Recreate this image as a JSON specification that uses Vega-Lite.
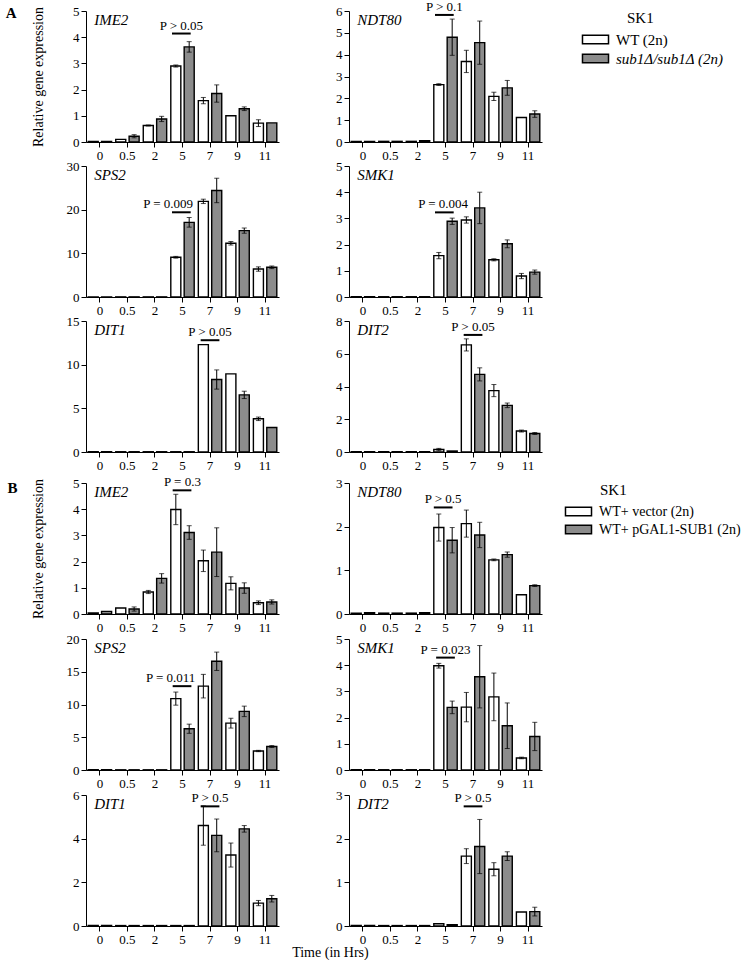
{
"$schema":"https://vega.github.io/schema/vega-lite/v6.json",
"padding":{"left":5,"top":0,"right":2,"bottom":0},
"datasets":{
"A":[
{"gene":"IME2","t":"0","g":"WT (2n)","v":0.02},{"gene":"IME2","t":"0","g":"sub1Δ/sub1Δ (2n)","v":0.02},
{"gene":"IME2","t":"0.5","g":"WT (2n)","v":0.1},{"gene":"IME2","t":"0.5","g":"sub1Δ/sub1Δ (2n)","v":0.22,"lo":0.16,"hi":0.28},
{"gene":"IME2","t":"2","g":"WT (2n)","v":0.63,"lo":0.61,"hi":0.65},{"gene":"IME2","t":"2","g":"sub1Δ/sub1Δ (2n)","v":0.88,"lo":0.78,"hi":0.98},
{"gene":"IME2","t":"5","g":"WT (2n)","v":2.9,"lo":2.86,"hi":2.94},{"gene":"IME2","t":"5","g":"sub1Δ/sub1Δ (2n)","v":3.63,"lo":3.43,"hi":3.83},
{"gene":"IME2","t":"7","g":"WT (2n)","v":1.58,"lo":1.46,"hi":1.7},{"gene":"IME2","t":"7","g":"sub1Δ/sub1Δ (2n)","v":1.85,"lo":1.52,"hi":2.18},
{"gene":"IME2","t":"9","g":"WT (2n)","v":1.0},{"gene":"IME2","t":"9","g":"sub1Δ/sub1Δ (2n)","v":1.27,"lo":1.2,"hi":1.34},
{"gene":"IME2","t":"11","g":"WT (2n)","v":0.72,"lo":0.59,"hi":0.85},{"gene":"IME2","t":"11","g":"sub1Δ/sub1Δ (2n)","v":0.73},
{"gene":"NDT80","t":"0","g":"WT (2n)","v":0.03},{"gene":"NDT80","t":"0","g":"sub1Δ/sub1Δ (2n)","v":0.03},
{"gene":"NDT80","t":"0.5","g":"WT (2n)","v":0.03},{"gene":"NDT80","t":"0.5","g":"sub1Δ/sub1Δ (2n)","v":0.03},
{"gene":"NDT80","t":"2","g":"WT (2n)","v":0.03},{"gene":"NDT80","t":"2","g":"sub1Δ/sub1Δ (2n)","v":0.06},
{"gene":"NDT80","t":"5","g":"WT (2n)","v":2.63,"lo":2.59,"hi":2.67},{"gene":"NDT80","t":"5","g":"sub1Δ/sub1Δ (2n)","v":4.8,"lo":3.97,"hi":5.63},
{"gene":"NDT80","t":"7","g":"WT (2n)","v":3.69,"lo":3.18,"hi":4.2},{"gene":"NDT80","t":"7","g":"sub1Δ/sub1Δ (2n)","v":4.55,"lo":3.56,"hi":5.54},
{"gene":"NDT80","t":"9","g":"WT (2n)","v":2.09,"lo":1.9,"hi":2.28},{"gene":"NDT80","t":"9","g":"sub1Δ/sub1Δ (2n)","v":2.48,"lo":2.14,"hi":2.82},
{"gene":"NDT80","t":"11","g":"WT (2n)","v":1.12},{"gene":"NDT80","t":"11","g":"sub1Δ/sub1Δ (2n)","v":1.28,"lo":1.13,"hi":1.43},
{"gene":"SPS2","t":"0","g":"WT (2n)","v":0.03},{"gene":"SPS2","t":"0","g":"sub1Δ/sub1Δ (2n)","v":0.03},
{"gene":"SPS2","t":"0.5","g":"WT (2n)","v":0.03},{"gene":"SPS2","t":"0.5","g":"sub1Δ/sub1Δ (2n)","v":0.03},
{"gene":"SPS2","t":"2","g":"WT (2n)","v":0.03},{"gene":"SPS2","t":"2","g":"sub1Δ/sub1Δ (2n)","v":0.03},
{"gene":"SPS2","t":"5","g":"WT (2n)","v":9.1,"lo":8.9,"hi":9.3},{"gene":"SPS2","t":"5","g":"sub1Δ/sub1Δ (2n)","v":17.1,"lo":16.0,"hi":18.2},
{"gene":"SPS2","t":"7","g":"WT (2n)","v":21.9,"lo":21.4,"hi":22.4},{"gene":"SPS2","t":"7","g":"sub1Δ/sub1Δ (2n)","v":24.4,"lo":21.6,"hi":27.2},
{"gene":"SPS2","t":"9","g":"WT (2n)","v":12.3,"lo":11.9,"hi":12.7},{"gene":"SPS2","t":"9","g":"sub1Δ/sub1Δ (2n)","v":15.2,"lo":14.6,"hi":15.8},
{"gene":"SPS2","t":"11","g":"WT (2n)","v":6.4,"lo":5.9,"hi":6.9},{"gene":"SPS2","t":"11","g":"sub1Δ/sub1Δ (2n)","v":6.8,"lo":6.5,"hi":7.1},
{"gene":"SMK1","t":"0","g":"WT (2n)","v":0.01},{"gene":"SMK1","t":"0","g":"sub1Δ/sub1Δ (2n)","v":0.01},
{"gene":"SMK1","t":"0.5","g":"WT (2n)","v":0.01},{"gene":"SMK1","t":"0.5","g":"sub1Δ/sub1Δ (2n)","v":0.01},
{"gene":"SMK1","t":"2","g":"WT (2n)","v":0.01},{"gene":"SMK1","t":"2","g":"sub1Δ/sub1Δ (2n)","v":0.01},
{"gene":"SMK1","t":"5","g":"WT (2n)","v":1.58,"lo":1.46,"hi":1.7},{"gene":"SMK1","t":"5","g":"sub1Δ/sub1Δ (2n)","v":2.89,"lo":2.77,"hi":3.01},
{"gene":"SMK1","t":"7","g":"WT (2n)","v":2.94,"lo":2.82,"hi":3.06},{"gene":"SMK1","t":"7","g":"sub1Δ/sub1Δ (2n)","v":3.4,"lo":2.8,"hi":4.0},
{"gene":"SMK1","t":"9","g":"WT (2n)","v":1.42,"lo":1.38,"hi":1.46},{"gene":"SMK1","t":"9","g":"sub1Δ/sub1Δ (2n)","v":2.03,"lo":1.88,"hi":2.18},
{"gene":"SMK1","t":"11","g":"WT (2n)","v":0.8,"lo":0.7,"hi":0.9},{"gene":"SMK1","t":"11","g":"sub1Δ/sub1Δ (2n)","v":0.95,"lo":0.87,"hi":1.03},
{"gene":"DIT1","t":"0","g":"WT (2n)","v":0.03},{"gene":"DIT1","t":"0","g":"sub1Δ/sub1Δ (2n)","v":0.03},
{"gene":"DIT1","t":"0.5","g":"WT (2n)","v":0.03},{"gene":"DIT1","t":"0.5","g":"sub1Δ/sub1Δ (2n)","v":0.03},
{"gene":"DIT1","t":"2","g":"WT (2n)","v":0.03},{"gene":"DIT1","t":"2","g":"sub1Δ/sub1Δ (2n)","v":0.03},
{"gene":"DIT1","t":"5","g":"WT (2n)","v":0.03},{"gene":"DIT1","t":"5","g":"sub1Δ/sub1Δ (2n)","v":0.03},
{"gene":"DIT1","t":"7","g":"WT (2n)","v":12.3},{"gene":"DIT1","t":"7","g":"sub1Δ/sub1Δ (2n)","v":8.3,"lo":7.2,"hi":9.4},
{"gene":"DIT1","t":"9","g":"WT (2n)","v":8.94},{"gene":"DIT1","t":"9","g":"sub1Δ/sub1Δ (2n)","v":6.54,"lo":6.12,"hi":6.96},
{"gene":"DIT1","t":"11","g":"WT (2n)","v":3.8,"lo":3.6,"hi":4.0},{"gene":"DIT1","t":"11","g":"sub1Δ/sub1Δ (2n)","v":2.8},
{"gene":"DIT2","t":"0","g":"WT (2n)","v":0.02},{"gene":"DIT2","t":"0","g":"sub1Δ/sub1Δ (2n)","v":0.02},
{"gene":"DIT2","t":"0.5","g":"WT (2n)","v":0.02},{"gene":"DIT2","t":"0.5","g":"sub1Δ/sub1Δ (2n)","v":0.02},
{"gene":"DIT2","t":"2","g":"WT (2n)","v":0.02},{"gene":"DIT2","t":"2","g":"sub1Δ/sub1Δ (2n)","v":0.02},
{"gene":"DIT2","t":"5","g":"WT (2n)","v":0.15,"lo":0.08,"hi":0.22},{"gene":"DIT2","t":"5","g":"sub1Δ/sub1Δ (2n)","v":0.06},
{"gene":"DIT2","t":"7","g":"WT (2n)","v":6.54,"lo":6.17,"hi":6.91},{"gene":"DIT2","t":"7","g":"sub1Δ/sub1Δ (2n)","v":4.74,"lo":4.34,"hi":5.14},
{"gene":"DIT2","t":"9","g":"WT (2n)","v":3.75,"lo":3.38,"hi":4.12},{"gene":"DIT2","t":"9","g":"sub1Δ/sub1Δ (2n)","v":2.85,"lo":2.71,"hi":2.99},
{"gene":"DIT2","t":"11","g":"WT (2n)","v":1.28,"lo":1.22,"hi":1.34},{"gene":"DIT2","t":"11","g":"sub1Δ/sub1Δ (2n)","v":1.13,"lo":1.07,"hi":1.19}
],
"B":[
{"gene":"IME2","t":"0","g":"WT+ vector (2n)","v":0.04},{"gene":"IME2","t":"0","g":"WT+ pGAL1-SUB1 (2n)","v":0.1},
{"gene":"IME2","t":"0.5","g":"WT+ vector (2n)","v":0.23},{"gene":"IME2","t":"0.5","g":"WT+ pGAL1-SUB1 (2n)","v":0.19,"lo":0.11,"hi":0.27},
{"gene":"IME2","t":"2","g":"WT+ vector (2n)","v":0.84,"lo":0.78,"hi":0.9},{"gene":"IME2","t":"2","g":"WT+ pGAL1-SUB1 (2n)","v":1.36,"lo":1.18,"hi":1.54},
{"gene":"IME2","t":"5","g":"WT+ vector (2n)","v":3.99,"lo":3.41,"hi":4.57},{"gene":"IME2","t":"5","g":"WT+ pGAL1-SUB1 (2n)","v":3.11,"lo":2.85,"hi":3.37},
{"gene":"IME2","t":"7","g":"WT+ vector (2n)","v":2.03,"lo":1.62,"hi":2.44},{"gene":"IME2","t":"7","g":"WT+ pGAL1-SUB1 (2n)","v":2.36,"lo":1.43,"hi":3.29},
{"gene":"IME2","t":"9","g":"WT+ vector (2n)","v":1.17,"lo":0.92,"hi":1.42},{"gene":"IME2","t":"9","g":"WT+ pGAL1-SUB1 (2n)","v":0.99,"lo":0.79,"hi":1.19},
{"gene":"IME2","t":"11","g":"WT+ vector (2n)","v":0.43,"lo":0.36,"hi":0.5},{"gene":"IME2","t":"11","g":"WT+ pGAL1-SUB1 (2n)","v":0.46,"lo":0.38,"hi":0.54},
{"gene":"NDT80","t":"0","g":"WT+ vector (2n)","v":0.02},{"gene":"NDT80","t":"0","g":"WT+ pGAL1-SUB1 (2n)","v":0.03},
{"gene":"NDT80","t":"0.5","g":"WT+ vector (2n)","v":0.02},{"gene":"NDT80","t":"0.5","g":"WT+ pGAL1-SUB1 (2n)","v":0.02},
{"gene":"NDT80","t":"2","g":"WT+ vector (2n)","v":0.02},{"gene":"NDT80","t":"2","g":"WT+ pGAL1-SUB1 (2n)","v":0.03},
{"gene":"NDT80","t":"5","g":"WT+ vector (2n)","v":1.98,"lo":1.67,"hi":2.29},{"gene":"NDT80","t":"5","g":"WT+ pGAL1-SUB1 (2n)","v":1.69,"lo":1.4,"hi":1.98},
{"gene":"NDT80","t":"7","g":"WT+ vector (2n)","v":2.07,"lo":1.76,"hi":2.38},{"gene":"NDT80","t":"7","g":"WT+ pGAL1-SUB1 (2n)","v":1.81,"lo":1.52,"hi":2.1},
{"gene":"NDT80","t":"9","g":"WT+ vector (2n)","v":1.24,"lo":1.22,"hi":1.26},{"gene":"NDT80","t":"9","g":"WT+ pGAL1-SUB1 (2n)","v":1.36,"lo":1.3,"hi":1.42},
{"gene":"NDT80","t":"11","g":"WT+ vector (2n)","v":0.44},{"gene":"NDT80","t":"11","g":"WT+ pGAL1-SUB1 (2n)","v":0.65,"lo":0.63,"hi":0.67},
{"gene":"SPS2","t":"0","g":"WT+ vector (2n)","v":0.03},{"gene":"SPS2","t":"0","g":"WT+ pGAL1-SUB1 (2n)","v":0.03},
{"gene":"SPS2","t":"0.5","g":"WT+ vector (2n)","v":0.03},{"gene":"SPS2","t":"0.5","g":"WT+ pGAL1-SUB1 (2n)","v":0.03},
{"gene":"SPS2","t":"2","g":"WT+ vector (2n)","v":0.03},{"gene":"SPS2","t":"2","g":"WT+ pGAL1-SUB1 (2n)","v":0.03},
{"gene":"SPS2","t":"5","g":"WT+ vector (2n)","v":10.9,"lo":9.9,"hi":11.9},{"gene":"SPS2","t":"5","g":"WT+ pGAL1-SUB1 (2n)","v":6.3,"lo":5.6,"hi":7.0},
{"gene":"SPS2","t":"7","g":"WT+ vector (2n)","v":12.8,"lo":11.0,"hi":14.6},{"gene":"SPS2","t":"7","g":"WT+ pGAL1-SUB1 (2n)","v":16.6,"lo":15.2,"hi":18.0},
{"gene":"SPS2","t":"9","g":"WT+ vector (2n)","v":7.16,"lo":6.4,"hi":7.9},{"gene":"SPS2","t":"9","g":"WT+ pGAL1-SUB1 (2n)","v":8.95,"lo":8.15,"hi":9.75},
{"gene":"SPS2","t":"11","g":"WT+ vector (2n)","v":2.9,"lo":2.8,"hi":3.0},{"gene":"SPS2","t":"11","g":"WT+ pGAL1-SUB1 (2n)","v":3.58,"lo":3.43,"hi":3.73},
{"gene":"SMK1","t":"0","g":"WT+ vector (2n)","v":0.01},{"gene":"SMK1","t":"0","g":"WT+ pGAL1-SUB1 (2n)","v":0.01},
{"gene":"SMK1","t":"0.5","g":"WT+ vector (2n)","v":0.01},{"gene":"SMK1","t":"0.5","g":"WT+ pGAL1-SUB1 (2n)","v":0.01},
{"gene":"SMK1","t":"2","g":"WT+ vector (2n)","v":0.01},{"gene":"SMK1","t":"2","g":"WT+ pGAL1-SUB1 (2n)","v":0.01},
{"gene":"SMK1","t":"5","g":"WT+ vector (2n)","v":3.98,"lo":3.89,"hi":4.07},{"gene":"SMK1","t":"5","g":"WT+ pGAL1-SUB1 (2n)","v":2.39,"lo":2.15,"hi":2.63},
{"gene":"SMK1","t":"7","g":"WT+ vector (2n)","v":2.4,"lo":1.84,"hi":2.96},{"gene":"SMK1","t":"7","g":"WT+ pGAL1-SUB1 (2n)","v":3.56,"lo":2.37,"hi":4.75},
{"gene":"SMK1","t":"9","g":"WT+ vector (2n)","v":2.79,"lo":1.88,"hi":3.7},{"gene":"SMK1","t":"9","g":"WT+ pGAL1-SUB1 (2n)","v":1.69,"lo":0.82,"hi":2.56},
{"gene":"SMK1","t":"11","g":"WT+ vector (2n)","v":0.46,"lo":0.43,"hi":0.49},{"gene":"SMK1","t":"11","g":"WT+ pGAL1-SUB1 (2n)","v":1.28,"lo":0.74,"hi":1.82},
{"gene":"DIT1","t":"0","g":"WT+ vector (2n)","v":0.02},{"gene":"DIT1","t":"0","g":"WT+ pGAL1-SUB1 (2n)","v":0.02},
{"gene":"DIT1","t":"0.5","g":"WT+ vector (2n)","v":0.02},{"gene":"DIT1","t":"0.5","g":"WT+ pGAL1-SUB1 (2n)","v":0.02},
{"gene":"DIT1","t":"2","g":"WT+ vector (2n)","v":0.02},{"gene":"DIT1","t":"2","g":"WT+ pGAL1-SUB1 (2n)","v":0.02},
{"gene":"DIT1","t":"5","g":"WT+ vector (2n)","v":0.02},{"gene":"DIT1","t":"5","g":"WT+ pGAL1-SUB1 (2n)","v":0.02},
{"gene":"DIT1","t":"7","g":"WT+ vector (2n)","v":4.6,"lo":3.7,"hi":5.5},{"gene":"DIT1","t":"7","g":"WT+ pGAL1-SUB1 (2n)","v":4.15,"lo":3.4,"hi":4.9},
{"gene":"DIT1","t":"9","g":"WT+ vector (2n)","v":3.25,"lo":2.7,"hi":3.8},{"gene":"DIT1","t":"9","g":"WT+ pGAL1-SUB1 (2n)","v":4.45,"lo":4.3,"hi":4.6},
{"gene":"DIT1","t":"11","g":"WT+ vector (2n)","v":1.05,"lo":0.93,"hi":1.17},{"gene":"DIT1","t":"11","g":"WT+ pGAL1-SUB1 (2n)","v":1.25,"lo":1.1,"hi":1.4},
{"gene":"DIT2","t":"0","g":"WT+ vector (2n)","v":0.01},{"gene":"DIT2","t":"0","g":"WT+ pGAL1-SUB1 (2n)","v":0.01},
{"gene":"DIT2","t":"0.5","g":"WT+ vector (2n)","v":0.01},{"gene":"DIT2","t":"0.5","g":"WT+ pGAL1-SUB1 (2n)","v":0.01},
{"gene":"DIT2","t":"2","g":"WT+ vector (2n)","v":0.01},{"gene":"DIT2","t":"2","g":"WT+ pGAL1-SUB1 (2n)","v":0.01},
{"gene":"DIT2","t":"5","g":"WT+ vector (2n)","v":0.05},{"gene":"DIT2","t":"5","g":"WT+ pGAL1-SUB1 (2n)","v":0.03},
{"gene":"DIT2","t":"7","g":"WT+ vector (2n)","v":1.6,"lo":1.43,"hi":1.77},{"gene":"DIT2","t":"7","g":"WT+ pGAL1-SUB1 (2n)","v":1.82,"lo":1.2,"hi":2.44},
{"gene":"DIT2","t":"9","g":"WT+ vector (2n)","v":1.3,"lo":1.15,"hi":1.45},{"gene":"DIT2","t":"9","g":"WT+ pGAL1-SUB1 (2n)","v":1.6,"lo":1.5,"hi":1.7},
{"gene":"DIT2","t":"11","g":"WT+ vector (2n)","v":0.32},{"gene":"DIT2","t":"11","g":"WT+ pGAL1-SUB1 (2n)","v":0.33,"lo":0.23,"hi":0.43}
],
"notes":[
{"s":"A","gene":"IME2","t":"5","p":"P > 0.05","py":4.14},
{"s":"A","gene":"NDT80","t":"5","p":"P > 0.1","py":5.82},
{"s":"A","gene":"SPS2","t":"5","p":"P = 0.009","py":19.4},
{"s":"A","gene":"SMK1","t":"5","p":"P = 0.004","py":3.23},
{"s":"A","gene":"DIT1","t":"7","p":"P > 0.05","py":12.8},
{"s":"A","gene":"DIT2","t":"7","p":"P > 0.05","py":7.15},
{"s":"B","gene":"IME2","t":"5","p":"P = 0.3","py":4.72},
{"s":"B","gene":"NDT80","t":"5","p":"P > 0.5","py":2.44},
{"s":"B","gene":"SPS2","t":"5","p":"P = 0.011","py":12.8},
{"s":"B","gene":"SMK1","t":"5","p":"P = 0.023","py":4.29},
{"s":"B","gene":"DIT1","t":"7","p":"P > 0.5","py":5.48},
{"s":"B","gene":"DIT2","t":"7","p":"P > 0.5","py":2.74}
]
},
"vconcat":[
{"concat":[
{"width":193,"height":131,"encoding":{"x":{"field":"t","type":"nominal","title":null,"scale":{"domain":["0","0.5","2","5","7","9","11"],"paddingInner":0.15,"paddingOuter":0.08},"axis":{"labelAngle":0}}},"layer":[
{"data":{"name":"A"},"transform":[{"filter":"datum.gene=='IME2'"}],"mark":{"type":"bar","stroke":"black","strokeWidth":1.4},"encoding":{"y":{"field":"v","type":"quantitative","scale":{"domain":[0,5],"nice":false},"axis":{"values":[0,1,2,3,4,5],"title":"Relative gene expression"}},"xOffset":{"field":"g","type":"nominal","scale":{"domain":["WT (2n)","sub1Δ/sub1Δ (2n)"],"paddingInner":0.25}},"fill":{"field":"g","type":"nominal","scale":{"domain":["WT (2n)","sub1Δ/sub1Δ (2n)"],"range":["white","#8c8c8c"]},"legend":{"title":"SK1","offset":43,"labelOffset":10,"rowPadding":0,"encode":{"title":{"update":{"dx":{"value":42}}},"labels":{"update":{"fontStyle":{"signal":"indexof(datum.label,'sub1')>=0 ? 'italic' : 'normal'"}}}}}}}},
{"data":{"name":"A"},"transform":[{"filter":"datum.gene=='IME2' && isValid(datum.lo)"}],"mark":{"type":"rule","color":"black","strokeWidth":1},"encoding":{"y":{"field":"lo","type":"quantitative","axis":{"values":[0,1,2,3,4,5],"title":"Relative gene expression"}},"y2":{"field":"hi"},"xOffset":{"field":"g","type":"nominal","scale":{"domain":["WT (2n)","sub1Δ/sub1Δ (2n)"]}}}},
{"data":{"name":"A"},"transform":[{"filter":"datum.gene=='IME2' && isValid(datum.lo)"}],"mark":{"type":"tick","color":"black","size":5,"thickness":1},"encoding":{"y":{"field":"lo","type":"quantitative","axis":{"values":[0,1,2,3,4,5],"title":"Relative gene expression"}},"xOffset":{"field":"g","type":"nominal","scale":{"domain":["WT (2n)","sub1Δ/sub1Δ (2n)"]}}}},
{"data":{"name":"A"},"transform":[{"filter":"datum.gene=='IME2' && isValid(datum.hi)"}],"mark":{"type":"tick","color":"black","size":5,"thickness":1},"encoding":{"y":{"field":"hi","type":"quantitative","axis":{"values":[0,1,2,3,4,5],"title":"Relative gene expression"}},"xOffset":{"field":"g","type":"nominal","scale":{"domain":["WT (2n)","sub1Δ/sub1Δ (2n)"]}}}},
{"data":{"name":"notes"},"transform":[{"filter":"datum.s=='A' && datum.gene=='IME2'"}],"mark":{"type":"rule","color":"black","strokeWidth":2},"encoding":{"x":{"field":"t","type":"nominal","bandPosition":0.05},"x2":{"field":"t","bandPosition":0.85},"y":{"field":"py","type":"quantitative","axis":{"values":[0,1,2,3,4,5],"title":"Relative gene expression"}}}},
{"data":{"name":"notes"},"transform":[{"filter":"datum.s=='A' && datum.gene=='IME2'"}],"mark":{"type":"text","baseline":"bottom","dy":-1,"fontSize":13},"encoding":{"x":{"field":"t","type":"nominal","bandPosition":0.45},"y":{"field":"py","type":"quantitative","axis":{"values":[0,1,2,3,4,5],"title":"Relative gene expression"}},"text":{"field":"p"}}},
{"data":{"name":"notes"},"transform":[{"filter":"datum.s=='A' && datum.gene=='IME2'"}],"mark":{"type":"text","align":"left","baseline":"top","fontStyle":"italic","fontSize":15,"dx":6,"dy":2},"encoding":{"x":{"datum":"0","bandPosition":0},"y":{"datum":5,"type":"quantitative","axis":{"values":[0,1,2,3,4,5],"title":"Relative gene expression"}},"text":{"field":"gene"}}}
]},
{"width":193,"height":131,"encoding":{"x":{"field":"t","type":"nominal","title":null,"scale":{"domain":["0","0.5","2","5","7","9","11"],"paddingInner":0.15,"paddingOuter":0.08},"axis":{"labelAngle":0}}},"layer":[
{"data":{"name":"A"},"transform":[{"filter":"datum.gene=='NDT80'"}],"mark":{"type":"bar","stroke":"black","strokeWidth":1.4},"encoding":{"y":{"field":"v","type":"quantitative","scale":{"domain":[0,6],"nice":false},"axis":{"values":[0,1,2,3,4,5,6],"title":null}},"xOffset":{"field":"g","type":"nominal","scale":{"domain":["WT (2n)","sub1Δ/sub1Δ (2n)"],"paddingInner":0.25}},"fill":{"field":"g","type":"nominal","scale":{"domain":["WT (2n)","sub1Δ/sub1Δ (2n)"],"range":["white","#8c8c8c"]}}}},
{"data":{"name":"A"},"transform":[{"filter":"datum.gene=='NDT80' && isValid(datum.lo)"}],"mark":{"type":"rule","color":"black","strokeWidth":1},"encoding":{"y":{"field":"lo","type":"quantitative","axis":{"values":[0,1,2,3,4,5,6],"title":null}},"y2":{"field":"hi"},"xOffset":{"field":"g","type":"nominal","scale":{"domain":["WT (2n)","sub1Δ/sub1Δ (2n)"]}}}},
{"data":{"name":"A"},"transform":[{"filter":"datum.gene=='NDT80' && isValid(datum.lo)"}],"mark":{"type":"tick","color":"black","size":5,"thickness":1},"encoding":{"y":{"field":"lo","type":"quantitative","axis":{"values":[0,1,2,3,4,5,6],"title":null}},"xOffset":{"field":"g","type":"nominal","scale":{"domain":["WT (2n)","sub1Δ/sub1Δ (2n)"]}}}},
{"data":{"name":"A"},"transform":[{"filter":"datum.gene=='NDT80' && isValid(datum.hi)"}],"mark":{"type":"tick","color":"black","size":5,"thickness":1},"encoding":{"y":{"field":"hi","type":"quantitative","axis":{"values":[0,1,2,3,4,5,6],"title":null}},"xOffset":{"field":"g","type":"nominal","scale":{"domain":["WT (2n)","sub1Δ/sub1Δ (2n)"]}}}},
{"data":{"name":"notes"},"transform":[{"filter":"datum.s=='A' && datum.gene=='NDT80'"}],"mark":{"type":"rule","color":"black","strokeWidth":2},"encoding":{"x":{"field":"t","type":"nominal","bandPosition":0.05},"x2":{"field":"t","bandPosition":0.85},"y":{"field":"py","type":"quantitative","axis":{"values":[0,1,2,3,4,5,6],"title":null}}}},
{"data":{"name":"notes"},"transform":[{"filter":"datum.s=='A' && datum.gene=='NDT80'"}],"mark":{"type":"text","baseline":"bottom","dy":-1,"fontSize":13},"encoding":{"x":{"field":"t","type":"nominal","bandPosition":0.45},"y":{"field":"py","type":"quantitative","axis":{"values":[0,1,2,3,4,5,6],"title":null}},"text":{"field":"p"}}},
{"data":{"name":"notes"},"transform":[{"filter":"datum.s=='A' && datum.gene=='NDT80'"}],"mark":{"type":"text","align":"left","baseline":"top","fontStyle":"italic","fontSize":15,"dx":6,"dy":2},"encoding":{"x":{"datum":"0","bandPosition":0},"y":{"datum":6,"type":"quantitative","axis":{"values":[0,1,2,3,4,5,6],"title":null}},"text":{"field":"gene"}}}
]},
{"width":193,"height":131,"encoding":{"x":{"field":"t","type":"nominal","title":null,"scale":{"domain":["0","0.5","2","5","7","9","11"],"paddingInner":0.15,"paddingOuter":0.08},"axis":{"labelAngle":0}}},"layer":[
{"data":{"name":"A"},"transform":[{"filter":"datum.gene=='SPS2'"}],"mark":{"type":"bar","stroke":"black","strokeWidth":1.4},"encoding":{"y":{"field":"v","type":"quantitative","scale":{"domain":[0,30],"nice":false},"axis":{"values":[0,10,20,30],"title":null}},"xOffset":{"field":"g","type":"nominal","scale":{"domain":["WT (2n)","sub1Δ/sub1Δ (2n)"],"paddingInner":0.25}},"fill":{"field":"g","type":"nominal","scale":{"domain":["WT (2n)","sub1Δ/sub1Δ (2n)"],"range":["white","#8c8c8c"]}}}},
{"data":{"name":"A"},"transform":[{"filter":"datum.gene=='SPS2' && isValid(datum.lo)"}],"mark":{"type":"rule","color":"black","strokeWidth":1},"encoding":{"y":{"field":"lo","type":"quantitative","axis":{"values":[0,10,20,30],"title":null}},"y2":{"field":"hi"},"xOffset":{"field":"g","type":"nominal","scale":{"domain":["WT (2n)","sub1Δ/sub1Δ (2n)"]}}}},
{"data":{"name":"A"},"transform":[{"filter":"datum.gene=='SPS2' && isValid(datum.lo)"}],"mark":{"type":"tick","color":"black","size":5,"thickness":1},"encoding":{"y":{"field":"lo","type":"quantitative","axis":{"values":[0,10,20,30],"title":null}},"xOffset":{"field":"g","type":"nominal","scale":{"domain":["WT (2n)","sub1Δ/sub1Δ (2n)"]}}}},
{"data":{"name":"A"},"transform":[{"filter":"datum.gene=='SPS2' && isValid(datum.hi)"}],"mark":{"type":"tick","color":"black","size":5,"thickness":1},"encoding":{"y":{"field":"hi","type":"quantitative","axis":{"values":[0,10,20,30],"title":null}},"xOffset":{"field":"g","type":"nominal","scale":{"domain":["WT (2n)","sub1Δ/sub1Δ (2n)"]}}}},
{"data":{"name":"notes"},"transform":[{"filter":"datum.s=='A' && datum.gene=='SPS2'"}],"mark":{"type":"rule","color":"black","strokeWidth":2},"encoding":{"x":{"field":"t","type":"nominal","bandPosition":0.05},"x2":{"field":"t","bandPosition":0.85},"y":{"field":"py","type":"quantitative","axis":{"values":[0,10,20,30],"title":null}}}},
{"data":{"name":"notes"},"transform":[{"filter":"datum.s=='A' && datum.gene=='SPS2'"}],"mark":{"type":"text","align":"right","baseline":"bottom","dy":-1,"fontSize":13},"encoding":{"x":{"field":"t","type":"nominal","bandPosition":0.95},"y":{"field":"py","type":"quantitative","axis":{"values":[0,10,20,30],"title":null}},"text":{"field":"p"}}},
{"data":{"name":"notes"},"transform":[{"filter":"datum.s=='A' && datum.gene=='SPS2'"}],"mark":{"type":"text","align":"left","baseline":"top","fontStyle":"italic","fontSize":15,"dx":6,"dy":2},"encoding":{"x":{"datum":"0","bandPosition":0},"y":{"datum":30,"type":"quantitative","axis":{"values":[0,10,20,30],"title":null}},"text":{"field":"gene"}}}
]},
{"width":193,"height":131,"encoding":{"x":{"field":"t","type":"nominal","title":null,"scale":{"domain":["0","0.5","2","5","7","9","11"],"paddingInner":0.15,"paddingOuter":0.08},"axis":{"labelAngle":0}}},"layer":[
{"data":{"name":"A"},"transform":[{"filter":"datum.gene=='SMK1'"}],"mark":{"type":"bar","stroke":"black","strokeWidth":1.4},"encoding":{"y":{"field":"v","type":"quantitative","scale":{"domain":[0,5],"nice":false},"axis":{"values":[0,1,2,3,4,5],"title":null}},"xOffset":{"field":"g","type":"nominal","scale":{"domain":["WT (2n)","sub1Δ/sub1Δ (2n)"],"paddingInner":0.25}},"fill":{"field":"g","type":"nominal","scale":{"domain":["WT (2n)","sub1Δ/sub1Δ (2n)"],"range":["white","#8c8c8c"]}}}},
{"data":{"name":"A"},"transform":[{"filter":"datum.gene=='SMK1' && isValid(datum.lo)"}],"mark":{"type":"rule","color":"black","strokeWidth":1},"encoding":{"y":{"field":"lo","type":"quantitative","axis":{"values":[0,1,2,3,4,5],"title":null}},"y2":{"field":"hi"},"xOffset":{"field":"g","type":"nominal","scale":{"domain":["WT (2n)","sub1Δ/sub1Δ (2n)"]}}}},
{"data":{"name":"A"},"transform":[{"filter":"datum.gene=='SMK1' && isValid(datum.lo)"}],"mark":{"type":"tick","color":"black","size":5,"thickness":1},"encoding":{"y":{"field":"lo","type":"quantitative","axis":{"values":[0,1,2,3,4,5],"title":null}},"xOffset":{"field":"g","type":"nominal","scale":{"domain":["WT (2n)","sub1Δ/sub1Δ (2n)"]}}}},
{"data":{"name":"A"},"transform":[{"filter":"datum.gene=='SMK1' && isValid(datum.hi)"}],"mark":{"type":"tick","color":"black","size":5,"thickness":1},"encoding":{"y":{"field":"hi","type":"quantitative","axis":{"values":[0,1,2,3,4,5],"title":null}},"xOffset":{"field":"g","type":"nominal","scale":{"domain":["WT (2n)","sub1Δ/sub1Δ (2n)"]}}}},
{"data":{"name":"notes"},"transform":[{"filter":"datum.s=='A' && datum.gene=='SMK1'"}],"mark":{"type":"rule","color":"black","strokeWidth":2},"encoding":{"x":{"field":"t","type":"nominal","bandPosition":0.05},"x2":{"field":"t","bandPosition":0.85},"y":{"field":"py","type":"quantitative","axis":{"values":[0,1,2,3,4,5],"title":null}}}},
{"data":{"name":"notes"},"transform":[{"filter":"datum.s=='A' && datum.gene=='SMK1'"}],"mark":{"type":"text","baseline":"bottom","dy":-1,"fontSize":13},"encoding":{"x":{"field":"t","type":"nominal","bandPosition":0.4},"y":{"field":"py","type":"quantitative","axis":{"values":[0,1,2,3,4,5],"title":null}},"text":{"field":"p"}}},
{"data":{"name":"notes"},"transform":[{"filter":"datum.s=='A' && datum.gene=='SMK1'"}],"mark":{"type":"text","align":"left","baseline":"top","fontStyle":"italic","fontSize":15,"dx":6,"dy":2},"encoding":{"x":{"datum":"0","bandPosition":0},"y":{"datum":5,"type":"quantitative","axis":{"values":[0,1,2,3,4,5],"title":null}},"text":{"field":"gene"}}}
]},
{"width":193,"height":131,"encoding":{"x":{"field":"t","type":"nominal","title":null,"scale":{"domain":["0","0.5","2","5","7","9","11"],"paddingInner":0.15,"paddingOuter":0.08},"axis":{"labelAngle":0}}},"layer":[
{"data":{"name":"A"},"transform":[{"filter":"datum.gene=='DIT1'"}],"mark":{"type":"bar","stroke":"black","strokeWidth":1.4},"encoding":{"y":{"field":"v","type":"quantitative","scale":{"domain":[0,15],"nice":false},"axis":{"values":[0,5,10,15],"title":null}},"xOffset":{"field":"g","type":"nominal","scale":{"domain":["WT (2n)","sub1Δ/sub1Δ (2n)"],"paddingInner":0.25}},"fill":{"field":"g","type":"nominal","scale":{"domain":["WT (2n)","sub1Δ/sub1Δ (2n)"],"range":["white","#8c8c8c"]}}}},
{"data":{"name":"A"},"transform":[{"filter":"datum.gene=='DIT1' && isValid(datum.lo)"}],"mark":{"type":"rule","color":"black","strokeWidth":1},"encoding":{"y":{"field":"lo","type":"quantitative","axis":{"values":[0,5,10,15],"title":null}},"y2":{"field":"hi"},"xOffset":{"field":"g","type":"nominal","scale":{"domain":["WT (2n)","sub1Δ/sub1Δ (2n)"]}}}},
{"data":{"name":"A"},"transform":[{"filter":"datum.gene=='DIT1' && isValid(datum.lo)"}],"mark":{"type":"tick","color":"black","size":5,"thickness":1},"encoding":{"y":{"field":"lo","type":"quantitative","axis":{"values":[0,5,10,15],"title":null}},"xOffset":{"field":"g","type":"nominal","scale":{"domain":["WT (2n)","sub1Δ/sub1Δ (2n)"]}}}},
{"data":{"name":"A"},"transform":[{"filter":"datum.gene=='DIT1' && isValid(datum.hi)"}],"mark":{"type":"tick","color":"black","size":5,"thickness":1},"encoding":{"y":{"field":"hi","type":"quantitative","axis":{"values":[0,5,10,15],"title":null}},"xOffset":{"field":"g","type":"nominal","scale":{"domain":["WT (2n)","sub1Δ/sub1Δ (2n)"]}}}},
{"data":{"name":"notes"},"transform":[{"filter":"datum.s=='A' && datum.gene=='DIT1'"}],"mark":{"type":"rule","color":"black","strokeWidth":2},"encoding":{"x":{"field":"t","type":"nominal","bandPosition":0.1},"x2":{"field":"t","bandPosition":0.9},"y":{"field":"py","type":"quantitative","axis":{"values":[0,5,10,15],"title":null}}}},
{"data":{"name":"notes"},"transform":[{"filter":"datum.s=='A' && datum.gene=='DIT1'"}],"mark":{"type":"text","baseline":"bottom","dy":-1,"fontSize":13},"encoding":{"x":{"field":"t","type":"nominal","bandPosition":0.5},"y":{"field":"py","type":"quantitative","axis":{"values":[0,5,10,15],"title":null}},"text":{"field":"p"}}},
{"data":{"name":"notes"},"transform":[{"filter":"datum.s=='A' && datum.gene=='DIT1'"}],"mark":{"type":"text","align":"left","baseline":"top","fontStyle":"italic","fontSize":15,"dx":6,"dy":2},"encoding":{"x":{"datum":"0","bandPosition":0},"y":{"datum":15,"type":"quantitative","axis":{"values":[0,5,10,15],"title":null}},"text":{"field":"gene"}}}
]},
{"width":193,"height":131,"encoding":{"x":{"field":"t","type":"nominal","title":null,"scale":{"domain":["0","0.5","2","5","7","9","11"],"paddingInner":0.15,"paddingOuter":0.08},"axis":{"labelAngle":0}}},"layer":[
{"data":{"name":"A"},"transform":[{"filter":"datum.gene=='DIT2'"}],"mark":{"type":"bar","stroke":"black","strokeWidth":1.4},"encoding":{"y":{"field":"v","type":"quantitative","scale":{"domain":[0,8],"nice":false},"axis":{"values":[0,2,4,6,8],"title":null}},"xOffset":{"field":"g","type":"nominal","scale":{"domain":["WT (2n)","sub1Δ/sub1Δ (2n)"],"paddingInner":0.25}},"fill":{"field":"g","type":"nominal","scale":{"domain":["WT (2n)","sub1Δ/sub1Δ (2n)"],"range":["white","#8c8c8c"]}}}},
{"data":{"name":"A"},"transform":[{"filter":"datum.gene=='DIT2' && isValid(datum.lo)"}],"mark":{"type":"rule","color":"black","strokeWidth":1},"encoding":{"y":{"field":"lo","type":"quantitative","axis":{"values":[0,2,4,6,8],"title":null}},"y2":{"field":"hi"},"xOffset":{"field":"g","type":"nominal","scale":{"domain":["WT (2n)","sub1Δ/sub1Δ (2n)"]}}}},
{"data":{"name":"A"},"transform":[{"filter":"datum.gene=='DIT2' && isValid(datum.lo)"}],"mark":{"type":"tick","color":"black","size":5,"thickness":1},"encoding":{"y":{"field":"lo","type":"quantitative","axis":{"values":[0,2,4,6,8],"title":null}},"xOffset":{"field":"g","type":"nominal","scale":{"domain":["WT (2n)","sub1Δ/sub1Δ (2n)"]}}}},
{"data":{"name":"A"},"transform":[{"filter":"datum.gene=='DIT2' && isValid(datum.hi)"}],"mark":{"type":"tick","color":"black","size":5,"thickness":1},"encoding":{"y":{"field":"hi","type":"quantitative","axis":{"values":[0,2,4,6,8],"title":null}},"xOffset":{"field":"g","type":"nominal","scale":{"domain":["WT (2n)","sub1Δ/sub1Δ (2n)"]}}}},
{"data":{"name":"notes"},"transform":[{"filter":"datum.s=='A' && datum.gene=='DIT2'"}],"mark":{"type":"rule","color":"black","strokeWidth":2},"encoding":{"x":{"field":"t","type":"nominal","bandPosition":0.1},"x2":{"field":"t","bandPosition":0.9},"y":{"field":"py","type":"quantitative","axis":{"values":[0,2,4,6,8],"title":null}}}},
{"data":{"name":"notes"},"transform":[{"filter":"datum.s=='A' && datum.gene=='DIT2'"}],"mark":{"type":"text","baseline":"bottom","dy":-1,"fontSize":13},"encoding":{"x":{"field":"t","type":"nominal","bandPosition":0.5},"y":{"field":"py","type":"quantitative","axis":{"values":[0,2,4,6,8],"title":null}},"text":{"field":"p"}}},
{"data":{"name":"notes"},"transform":[{"filter":"datum.s=='A' && datum.gene=='DIT2'"}],"mark":{"type":"text","align":"left","baseline":"top","fontStyle":"italic","fontSize":15,"dx":6,"dy":2},"encoding":{"x":{"datum":"0","bandPosition":0},"y":{"datum":8,"type":"quantitative","axis":{"values":[0,2,4,6,8],"title":null}},"text":{"field":"gene"}}}
]}
],"columns":2,"bounds":"flush","spacing":{"row":24,"column":70},
"resolve":{"scale":{"y":"independent","x":"independent","xOffset":"independent","fill":"shared"}},
"title":{"text":"A","orient":"left","angle":0,"anchor":"end","align":"right","baseline":"top","fontSize":15,"fontWeight":"bold","offset":4,"dy":5}
},
{"concat":[
{"width":193,"height":131,"encoding":{"x":{"field":"t","type":"nominal","title":null,"scale":{"domain":["0","0.5","2","5","7","9","11"],"paddingInner":0.15,"paddingOuter":0.08},"axis":{"labelAngle":0}}},"layer":[
{"data":{"name":"B"},"transform":[{"filter":"datum.gene=='IME2'"}],"mark":{"type":"bar","stroke":"black","strokeWidth":1.4},"encoding":{"y":{"field":"v","type":"quantitative","scale":{"domain":[0,5],"nice":false},"axis":{"values":[0,1,2,3,4,5],"title":"Relative gene expression"}},"xOffset":{"field":"g","type":"nominal","scale":{"domain":["WT+ vector (2n)","WT+ pGAL1-SUB1 (2n)"],"paddingInner":0.25}},"fill":{"field":"g","type":"nominal","scale":{"domain":["WT+ vector (2n)","WT+ pGAL1-SUB1 (2n)"],"range":["white","#8c8c8c"]},"legend":{"title":"SK1","offset":26,"labelOffset":10,"rowPadding":-4,"labelFontSize":14,"encode":{"title":{"update":{"dx":{"value":32}}}}}}}},
{"data":{"name":"B"},"transform":[{"filter":"datum.gene=='IME2' && isValid(datum.lo)"}],"mark":{"type":"rule","color":"black","strokeWidth":1},"encoding":{"y":{"field":"lo","type":"quantitative","axis":{"values":[0,1,2,3,4,5],"title":"Relative gene expression"}},"y2":{"field":"hi"},"xOffset":{"field":"g","type":"nominal","scale":{"domain":["WT+ vector (2n)","WT+ pGAL1-SUB1 (2n)"]}}}},
{"data":{"name":"B"},"transform":[{"filter":"datum.gene=='IME2' && isValid(datum.lo)"}],"mark":{"type":"tick","color":"black","size":5,"thickness":1},"encoding":{"y":{"field":"lo","type":"quantitative","axis":{"values":[0,1,2,3,4,5],"title":"Relative gene expression"}},"xOffset":{"field":"g","type":"nominal","scale":{"domain":["WT+ vector (2n)","WT+ pGAL1-SUB1 (2n)"]}}}},
{"data":{"name":"B"},"transform":[{"filter":"datum.gene=='IME2' && isValid(datum.hi)"}],"mark":{"type":"tick","color":"black","size":5,"thickness":1},"encoding":{"y":{"field":"hi","type":"quantitative","axis":{"values":[0,1,2,3,4,5],"title":"Relative gene expression"}},"xOffset":{"field":"g","type":"nominal","scale":{"domain":["WT+ vector (2n)","WT+ pGAL1-SUB1 (2n)"]}}}},
{"data":{"name":"notes"},"transform":[{"filter":"datum.s=='B' && datum.gene=='IME2'"}],"mark":{"type":"rule","color":"black","strokeWidth":2},"encoding":{"x":{"field":"t","type":"nominal","bandPosition":0.08},"x2":{"field":"t","bandPosition":0.88},"y":{"field":"py","type":"quantitative","axis":{"values":[0,1,2,3,4,5],"title":"Relative gene expression"}}}},
{"data":{"name":"notes"},"transform":[{"filter":"datum.s=='B' && datum.gene=='IME2'"}],"mark":{"type":"text","baseline":"bottom","dy":-1,"fontSize":13},"encoding":{"x":{"field":"t","type":"nominal","bandPosition":0.5},"y":{"field":"py","type":"quantitative","axis":{"values":[0,1,2,3,4,5],"title":"Relative gene expression"}},"text":{"field":"p"}}},
{"data":{"name":"notes"},"transform":[{"filter":"datum.s=='B' && datum.gene=='IME2'"}],"mark":{"type":"text","align":"left","baseline":"top","fontStyle":"italic","fontSize":15,"dx":6,"dy":2},"encoding":{"x":{"datum":"0","bandPosition":0},"y":{"datum":5,"type":"quantitative","axis":{"values":[0,1,2,3,4,5],"title":"Relative gene expression"}},"text":{"field":"gene"}}}
]},
{"width":193,"height":131,"encoding":{"x":{"field":"t","type":"nominal","title":null,"scale":{"domain":["0","0.5","2","5","7","9","11"],"paddingInner":0.15,"paddingOuter":0.08},"axis":{"labelAngle":0}}},"layer":[
{"data":{"name":"B"},"transform":[{"filter":"datum.gene=='NDT80'"}],"mark":{"type":"bar","stroke":"black","strokeWidth":1.4},"encoding":{"y":{"field":"v","type":"quantitative","scale":{"domain":[0,3],"nice":false},"axis":{"values":[0,1,2,3],"title":null}},"xOffset":{"field":"g","type":"nominal","scale":{"domain":["WT+ vector (2n)","WT+ pGAL1-SUB1 (2n)"],"paddingInner":0.25}},"fill":{"field":"g","type":"nominal","scale":{"domain":["WT+ vector (2n)","WT+ pGAL1-SUB1 (2n)"],"range":["white","#8c8c8c"]}}}},
{"data":{"name":"B"},"transform":[{"filter":"datum.gene=='NDT80' && isValid(datum.lo)"}],"mark":{"type":"rule","color":"black","strokeWidth":1},"encoding":{"y":{"field":"lo","type":"quantitative","axis":{"values":[0,1,2,3],"title":null}},"y2":{"field":"hi"},"xOffset":{"field":"g","type":"nominal","scale":{"domain":["WT+ vector (2n)","WT+ pGAL1-SUB1 (2n)"]}}}},
{"data":{"name":"B"},"transform":[{"filter":"datum.gene=='NDT80' && isValid(datum.lo)"}],"mark":{"type":"tick","color":"black","size":5,"thickness":1},"encoding":{"y":{"field":"lo","type":"quantitative","axis":{"values":[0,1,2,3],"title":null}},"xOffset":{"field":"g","type":"nominal","scale":{"domain":["WT+ vector (2n)","WT+ pGAL1-SUB1 (2n)"]}}}},
{"data":{"name":"B"},"transform":[{"filter":"datum.gene=='NDT80' && isValid(datum.hi)"}],"mark":{"type":"tick","color":"black","size":5,"thickness":1},"encoding":{"y":{"field":"hi","type":"quantitative","axis":{"values":[0,1,2,3],"title":null}},"xOffset":{"field":"g","type":"nominal","scale":{"domain":["WT+ vector (2n)","WT+ pGAL1-SUB1 (2n)"]}}}},
{"data":{"name":"notes"},"transform":[{"filter":"datum.s=='B' && datum.gene=='NDT80'"}],"mark":{"type":"rule","color":"black","strokeWidth":2},"encoding":{"x":{"field":"t","type":"nominal","bandPosition":0.0},"x2":{"field":"t","bandPosition":0.8},"y":{"field":"py","type":"quantitative","axis":{"values":[0,1,2,3],"title":null}}}},
{"data":{"name":"notes"},"transform":[{"filter":"datum.s=='B' && datum.gene=='NDT80'"}],"mark":{"type":"text","baseline":"bottom","dy":-1,"fontSize":13},"encoding":{"x":{"field":"t","type":"nominal","bandPosition":0.4},"y":{"field":"py","type":"quantitative","axis":{"values":[0,1,2,3],"title":null}},"text":{"field":"p"}}},
{"data":{"name":"notes"},"transform":[{"filter":"datum.s=='B' && datum.gene=='NDT80'"}],"mark":{"type":"text","align":"left","baseline":"top","fontStyle":"italic","fontSize":15,"dx":6,"dy":2},"encoding":{"x":{"datum":"0","bandPosition":0},"y":{"datum":3,"type":"quantitative","axis":{"values":[0,1,2,3],"title":null}},"text":{"field":"gene"}}}
]},
{"width":193,"height":131,"encoding":{"x":{"field":"t","type":"nominal","title":null,"scale":{"domain":["0","0.5","2","5","7","9","11"],"paddingInner":0.15,"paddingOuter":0.08},"axis":{"labelAngle":0}}},"layer":[
{"data":{"name":"B"},"transform":[{"filter":"datum.gene=='SPS2'"}],"mark":{"type":"bar","stroke":"black","strokeWidth":1.4},"encoding":{"y":{"field":"v","type":"quantitative","scale":{"domain":[0,20],"nice":false},"axis":{"values":[0,5,10,15,20],"title":null}},"xOffset":{"field":"g","type":"nominal","scale":{"domain":["WT+ vector (2n)","WT+ pGAL1-SUB1 (2n)"],"paddingInner":0.25}},"fill":{"field":"g","type":"nominal","scale":{"domain":["WT+ vector (2n)","WT+ pGAL1-SUB1 (2n)"],"range":["white","#8c8c8c"]}}}},
{"data":{"name":"B"},"transform":[{"filter":"datum.gene=='SPS2' && isValid(datum.lo)"}],"mark":{"type":"rule","color":"black","strokeWidth":1},"encoding":{"y":{"field":"lo","type":"quantitative","axis":{"values":[0,5,10,15,20],"title":null}},"y2":{"field":"hi"},"xOffset":{"field":"g","type":"nominal","scale":{"domain":["WT+ vector (2n)","WT+ pGAL1-SUB1 (2n)"]}}}},
{"data":{"name":"B"},"transform":[{"filter":"datum.gene=='SPS2' && isValid(datum.lo)"}],"mark":{"type":"tick","color":"black","size":5,"thickness":1},"encoding":{"y":{"field":"lo","type":"quantitative","axis":{"values":[0,5,10,15,20],"title":null}},"xOffset":{"field":"g","type":"nominal","scale":{"domain":["WT+ vector (2n)","WT+ pGAL1-SUB1 (2n)"]}}}},
{"data":{"name":"B"},"transform":[{"filter":"datum.gene=='SPS2' && isValid(datum.hi)"}],"mark":{"type":"tick","color":"black","size":5,"thickness":1},"encoding":{"y":{"field":"hi","type":"quantitative","axis":{"values":[0,5,10,15,20],"title":null}},"xOffset":{"field":"g","type":"nominal","scale":{"domain":["WT+ vector (2n)","WT+ pGAL1-SUB1 (2n)"]}}}},
{"data":{"name":"notes"},"transform":[{"filter":"datum.s=='B' && datum.gene=='SPS2'"}],"mark":{"type":"rule","color":"black","strokeWidth":2},"encoding":{"x":{"field":"t","type":"nominal","bandPosition":0.08},"x2":{"field":"t","bandPosition":0.88},"y":{"field":"py","type":"quantitative","axis":{"values":[0,5,10,15,20],"title":null}}}},
{"data":{"name":"notes"},"transform":[{"filter":"datum.s=='B' && datum.gene=='SPS2'"}],"mark":{"type":"text","align":"right","baseline":"bottom","dy":-1,"fontSize":13},"encoding":{"x":{"field":"t","type":"nominal","bandPosition":1.05},"y":{"field":"py","type":"quantitative","axis":{"values":[0,5,10,15,20],"title":null}},"text":{"field":"p"}}},
{"data":{"name":"notes"},"transform":[{"filter":"datum.s=='B' && datum.gene=='SPS2'"}],"mark":{"type":"text","align":"left","baseline":"top","fontStyle":"italic","fontSize":15,"dx":6,"dy":2},"encoding":{"x":{"datum":"0","bandPosition":0},"y":{"datum":20,"type":"quantitative","axis":{"values":[0,5,10,15,20],"title":null}},"text":{"field":"gene"}}}
]},
{"width":193,"height":131,"encoding":{"x":{"field":"t","type":"nominal","title":null,"scale":{"domain":["0","0.5","2","5","7","9","11"],"paddingInner":0.15,"paddingOuter":0.08},"axis":{"labelAngle":0}}},"layer":[
{"data":{"name":"B"},"transform":[{"filter":"datum.gene=='SMK1'"}],"mark":{"type":"bar","stroke":"black","strokeWidth":1.4},"encoding":{"y":{"field":"v","type":"quantitative","scale":{"domain":[0,5],"nice":false},"axis":{"values":[0,1,2,3,4,5],"title":null}},"xOffset":{"field":"g","type":"nominal","scale":{"domain":["WT+ vector (2n)","WT+ pGAL1-SUB1 (2n)"],"paddingInner":0.25}},"fill":{"field":"g","type":"nominal","scale":{"domain":["WT+ vector (2n)","WT+ pGAL1-SUB1 (2n)"],"range":["white","#8c8c8c"]}}}},
{"data":{"name":"B"},"transform":[{"filter":"datum.gene=='SMK1' && isValid(datum.lo)"}],"mark":{"type":"rule","color":"black","strokeWidth":1},"encoding":{"y":{"field":"lo","type":"quantitative","axis":{"values":[0,1,2,3,4,5],"title":null}},"y2":{"field":"hi"},"xOffset":{"field":"g","type":"nominal","scale":{"domain":["WT+ vector (2n)","WT+ pGAL1-SUB1 (2n)"]}}}},
{"data":{"name":"B"},"transform":[{"filter":"datum.gene=='SMK1' && isValid(datum.lo)"}],"mark":{"type":"tick","color":"black","size":5,"thickness":1},"encoding":{"y":{"field":"lo","type":"quantitative","axis":{"values":[0,1,2,3,4,5],"title":null}},"xOffset":{"field":"g","type":"nominal","scale":{"domain":["WT+ vector (2n)","WT+ pGAL1-SUB1 (2n)"]}}}},
{"data":{"name":"B"},"transform":[{"filter":"datum.gene=='SMK1' && isValid(datum.hi)"}],"mark":{"type":"tick","color":"black","size":5,"thickness":1},"encoding":{"y":{"field":"hi","type":"quantitative","axis":{"values":[0,1,2,3,4,5],"title":null}},"xOffset":{"field":"g","type":"nominal","scale":{"domain":["WT+ vector (2n)","WT+ pGAL1-SUB1 (2n)"]}}}},
{"data":{"name":"notes"},"transform":[{"filter":"datum.s=='B' && datum.gene=='SMK1'"}],"mark":{"type":"rule","color":"black","strokeWidth":2},"encoding":{"x":{"field":"t","type":"nominal","bandPosition":0.1},"x2":{"field":"t","bandPosition":0.9},"y":{"field":"py","type":"quantitative","axis":{"values":[0,1,2,3,4,5],"title":null}}}},
{"data":{"name":"notes"},"transform":[{"filter":"datum.s=='B' && datum.gene=='SMK1'"}],"mark":{"type":"text","baseline":"bottom","dy":-1,"fontSize":13},"encoding":{"x":{"field":"t","type":"nominal","bandPosition":0.5},"y":{"field":"py","type":"quantitative","axis":{"values":[0,1,2,3,4,5],"title":null}},"text":{"field":"p"}}},
{"data":{"name":"notes"},"transform":[{"filter":"datum.s=='B' && datum.gene=='SMK1'"}],"mark":{"type":"text","align":"left","baseline":"top","fontStyle":"italic","fontSize":15,"dx":6,"dy":2},"encoding":{"x":{"datum":"0","bandPosition":0},"y":{"datum":5,"type":"quantitative","axis":{"values":[0,1,2,3,4,5],"title":null}},"text":{"field":"gene"}}}
]},
{"width":193,"height":131,"encoding":{"x":{"field":"t","type":"nominal","title":null,"scale":{"domain":["0","0.5","2","5","7","9","11"],"paddingInner":0.15,"paddingOuter":0.08},"axis":{"labelAngle":0}}},"layer":[
{"data":{"name":"B"},"transform":[{"filter":"datum.gene=='DIT1'"}],"mark":{"type":"bar","stroke":"black","strokeWidth":1.4},"encoding":{"y":{"field":"v","type":"quantitative","scale":{"domain":[0,6],"nice":false},"axis":{"values":[0,2,4,6],"title":null}},"xOffset":{"field":"g","type":"nominal","scale":{"domain":["WT+ vector (2n)","WT+ pGAL1-SUB1 (2n)"],"paddingInner":0.25}},"fill":{"field":"g","type":"nominal","scale":{"domain":["WT+ vector (2n)","WT+ pGAL1-SUB1 (2n)"],"range":["white","#8c8c8c"]}}}},
{"data":{"name":"B"},"transform":[{"filter":"datum.gene=='DIT1' && isValid(datum.lo)"}],"mark":{"type":"rule","color":"black","strokeWidth":1},"encoding":{"y":{"field":"lo","type":"quantitative","axis":{"values":[0,2,4,6],"title":null}},"y2":{"field":"hi"},"xOffset":{"field":"g","type":"nominal","scale":{"domain":["WT+ vector (2n)","WT+ pGAL1-SUB1 (2n)"]}}}},
{"data":{"name":"B"},"transform":[{"filter":"datum.gene=='DIT1' && isValid(datum.lo)"}],"mark":{"type":"tick","color":"black","size":5,"thickness":1},"encoding":{"y":{"field":"lo","type":"quantitative","axis":{"values":[0,2,4,6],"title":null}},"xOffset":{"field":"g","type":"nominal","scale":{"domain":["WT+ vector (2n)","WT+ pGAL1-SUB1 (2n)"]}}}},
{"data":{"name":"B"},"transform":[{"filter":"datum.gene=='DIT1' && isValid(datum.hi)"}],"mark":{"type":"tick","color":"black","size":5,"thickness":1},"encoding":{"y":{"field":"hi","type":"quantitative","axis":{"values":[0,2,4,6],"title":null}},"xOffset":{"field":"g","type":"nominal","scale":{"domain":["WT+ vector (2n)","WT+ pGAL1-SUB1 (2n)"]}}}},
{"data":{"name":"notes"},"transform":[{"filter":"datum.s=='B' && datum.gene=='DIT1'"}],"mark":{"type":"rule","color":"black","strokeWidth":2},"encoding":{"x":{"field":"t","type":"nominal","bandPosition":0.1},"x2":{"field":"t","bandPosition":0.9},"y":{"field":"py","type":"quantitative","axis":{"values":[0,2,4,6],"title":null}}}},
{"data":{"name":"notes"},"transform":[{"filter":"datum.s=='B' && datum.gene=='DIT1'"}],"mark":{"type":"text","baseline":"bottom","dy":-1,"fontSize":13},"encoding":{"x":{"field":"t","type":"nominal","bandPosition":0.5},"y":{"field":"py","type":"quantitative","axis":{"values":[0,2,4,6],"title":null}},"text":{"field":"p"}}},
{"data":{"name":"notes"},"transform":[{"filter":"datum.s=='B' && datum.gene=='DIT1'"}],"mark":{"type":"text","align":"left","baseline":"top","fontStyle":"italic","fontSize":15,"dx":6,"dy":2},"encoding":{"x":{"datum":"0","bandPosition":0},"y":{"datum":6,"type":"quantitative","axis":{"values":[0,2,4,6],"title":null}},"text":{"field":"gene"}}}
]},
{"width":193,"height":131,"encoding":{"x":{"field":"t","type":"nominal","title":null,"scale":{"domain":["0","0.5","2","5","7","9","11"],"paddingInner":0.15,"paddingOuter":0.08},"axis":{"labelAngle":0}}},"layer":[
{"data":{"name":"B"},"transform":[{"filter":"datum.gene=='DIT2'"}],"mark":{"type":"bar","stroke":"black","strokeWidth":1.4},"encoding":{"y":{"field":"v","type":"quantitative","scale":{"domain":[0,3],"nice":false},"axis":{"values":[0,1,2,3],"title":null}},"xOffset":{"field":"g","type":"nominal","scale":{"domain":["WT+ vector (2n)","WT+ pGAL1-SUB1 (2n)"],"paddingInner":0.25}},"fill":{"field":"g","type":"nominal","scale":{"domain":["WT+ vector (2n)","WT+ pGAL1-SUB1 (2n)"],"range":["white","#8c8c8c"]}}}},
{"data":{"name":"B"},"transform":[{"filter":"datum.gene=='DIT2' && isValid(datum.lo)"}],"mark":{"type":"rule","color":"black","strokeWidth":1},"encoding":{"y":{"field":"lo","type":"quantitative","axis":{"values":[0,1,2,3],"title":null}},"y2":{"field":"hi"},"xOffset":{"field":"g","type":"nominal","scale":{"domain":["WT+ vector (2n)","WT+ pGAL1-SUB1 (2n)"]}}}},
{"data":{"name":"B"},"transform":[{"filter":"datum.gene=='DIT2' && isValid(datum.lo)"}],"mark":{"type":"tick","color":"black","size":5,"thickness":1},"encoding":{"y":{"field":"lo","type":"quantitative","axis":{"values":[0,1,2,3],"title":null}},"xOffset":{"field":"g","type":"nominal","scale":{"domain":["WT+ vector (2n)","WT+ pGAL1-SUB1 (2n)"]}}}},
{"data":{"name":"B"},"transform":[{"filter":"datum.gene=='DIT2' && isValid(datum.hi)"}],"mark":{"type":"tick","color":"black","size":5,"thickness":1},"encoding":{"y":{"field":"hi","type":"quantitative","axis":{"values":[0,1,2,3],"title":null}},"xOffset":{"field":"g","type":"nominal","scale":{"domain":["WT+ vector (2n)","WT+ pGAL1-SUB1 (2n)"]}}}},
{"data":{"name":"notes"},"transform":[{"filter":"datum.s=='B' && datum.gene=='DIT2'"}],"mark":{"type":"rule","color":"black","strokeWidth":2},"encoding":{"x":{"field":"t","type":"nominal","bandPosition":0.1},"x2":{"field":"t","bandPosition":0.9},"y":{"field":"py","type":"quantitative","axis":{"values":[0,1,2,3],"title":null}}}},
{"data":{"name":"notes"},"transform":[{"filter":"datum.s=='B' && datum.gene=='DIT2'"}],"mark":{"type":"text","baseline":"bottom","dy":-1,"fontSize":13},"encoding":{"x":{"field":"t","type":"nominal","bandPosition":0.5},"y":{"field":"py","type":"quantitative","axis":{"values":[0,1,2,3],"title":null}},"text":{"field":"p"}}},
{"data":{"name":"notes"},"transform":[{"filter":"datum.s=='B' && datum.gene=='DIT2'"}],"mark":{"type":"text","align":"left","baseline":"top","fontStyle":"italic","fontSize":15,"dx":6,"dy":2},"encoding":{"x":{"datum":"0","bandPosition":0},"y":{"datum":3,"type":"quantitative","axis":{"values":[0,1,2,3],"title":null}},"text":{"field":"gene"}}}
]}
],"columns":2,"bounds":"flush","spacing":{"row":25,"column":70},
"resolve":{"scale":{"y":"independent","x":"independent","xOffset":"independent","fill":"shared"}},
"title":{"text":"B","orient":"left","angle":0,"anchor":"end","align":"right","baseline":"top","fontSize":15,"fontWeight":"bold","offset":4,"dy":5}
}
],
"spacing":4,
"resolve":{"scale":{"fill":"independent"},"legend":{"fill":"independent"}},
"title":{"text":"Time (in Hrs)","orient":"bottom","anchor":"middle","fontSize":14,"fontWeight":"normal","offset":0,"dx":-43},
"config":{
"font":"'Liberation Serif', 'Times New Roman', 'DejaVu Serif', serif",
"view":{"stroke":null},
"axis":{"grid":false,"labelOverlap":false,"domainColor":"black","tickColor":"black","labelColor":"black","labelFontSize":13,"tickSize":5,"labelPadding":2,"titleColor":"black","titleFontWeight":"normal","titleFontSize":14,"titlePadding":27},
"text":{"color":"black"},
"legend":{"orient":"right","padding":0,"symbolType":"M-1.37,-0.44H1.37V0.44H-1.37Z","symbolSize":361,"symbolStrokeColor":"black","symbolStrokeWidth":1.5,"labelFontSize":15,"titleFontSize":15,"titleFontWeight":"normal","labelColor":"black","titleColor":"black","titlePadding":3},
"title":{"color":"black"}
}
}
